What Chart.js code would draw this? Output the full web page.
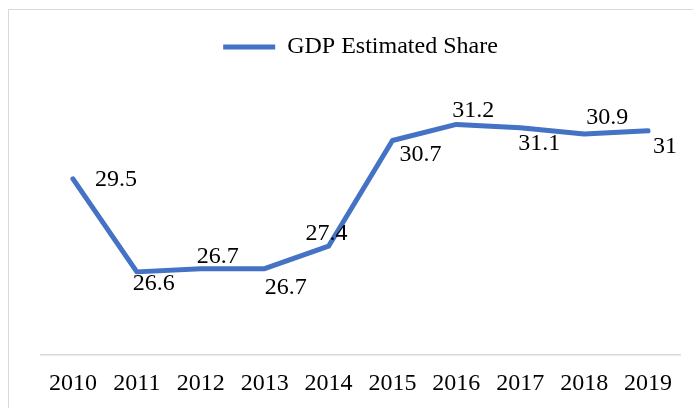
<!DOCTYPE html>
<html>
<head>
<meta charset="utf-8">
<script src="https://cdn.jsdelivr.net/npm/chart.js@4"></script>
<style>
  html, body { margin: 0; padding: 0; background: #fff; }
  #wrap { width: 693px; height: 408px; }
</style>
</head>
<body>
<div id="wrap"><canvas id="gdpChart"></canvas></div>
<script>
// データ
const years = ['2010', '2011', '2012', '2013', '2014', '2015', '2016', '2017', '2018', '2019'];
const gdpShare = [29.5, 26.6, 26.7, 26.7, 27.4, 30.7, 31.2, 31.1, 30.9, 31];
const seriesName = 'GDP Estimated Share';

// ラベルの位置 (点からのずれ)
const labelOffsets = [
    [43, 1], [17, 12], [17, -12], [21, 19], [-2, -13],
    [28, 14], [17, -14], [19, 16], [23, -16], [17, 16]
];

const fontFamily = '"Liberation Serif", "Times New Roman", serif';

// 枠線を描くプラグイン
const frame = {
    id: 'frame',
    beforeDraw(chart) {
        const ctx = chart.ctx;
        ctx.save();
        ctx.fillStyle = '#fff';
        ctx.fillRect(0, 0, chart.width, chart.height);
        ctx.strokeStyle = '#d9d9d9';
        ctx.lineWidth = 1;
        ctx.strokeRect(8.5, 9.5, 900, 900);
        ctx.restore();
    }
};

// 値ラベルを描くプラグイン
const valueLabels = {
    id: 'valueLabels',
    afterDatasetsDraw(chart) {
        const ctx = chart.ctx;
        const meta = chart.getDatasetMeta(0);
        ctx.save();
        ctx.font = '24px ' + fontFamily;
        ctx.fillStyle = '#000';
        ctx.textAlign = 'center';
        ctx.textBaseline = 'middle';
        meta.data.forEach(function(pt, i) {
            const off = labelOffsets[i];
            ctx.fillText(String(gdpShare[i]), pt.x + off[0], pt.y + off[1]);
        });
        ctx.restore();
    }
};

new Chart(document.getElementById('gdpChart'), {
    type: 'line',
    data: {
        labels: years,
        datasets: [{
            label: seriesName,
            data: gdpShare,
            borderColor: '#4472C4',
            backgroundColor: '#4472C4',
            borderWidth: 5,
            borderCapStyle: 'round',
            borderJoinStyle: 'round',
            tension: 0,
            pointRadius: 0
        }]
    },
    options: {
        responsive: true,
        maintainAspectRatio: false,
        animation: false,
        layout: { padding: { left: 41, right: 13, top: 29, bottom: -4 } },
        plugins: {
            legend: {
                position: 'top',
                labels: {
                    usePointStyle: true,
                    pointStyle: 'line',
                    pointStyleWidth: 52,
                    padding: 6,
                    color: '#000',
                    font: { family: fontFamily, size: 24 }
                }
            },
            tooltip: { enabled: false }
        },
        scales: {
            x: {
                offset: true,
                grid: { display: false, drawTicks: false },
                border: { display: true, color: '#d9d9d9', width: 1.5 },
                ticks: {
                    padding: 14,
                    color: '#000',
                    maxRotation: 0,
                    font: { family: fontFamily, size: 24 }
                }
            },
            y: {
                display: false,
                min: 24,
                max: 32.93
            }
        }
    },
    plugins: [frame, valueLabels]
});
</script>
</body>
</html>
